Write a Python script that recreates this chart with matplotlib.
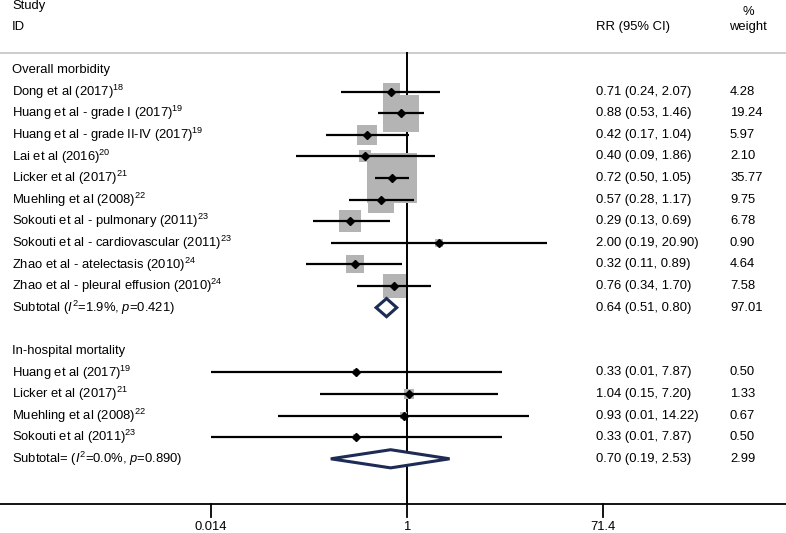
import matplotlib
matplotlib.use("Agg")
import matplotlib.pyplot as plt
import numpy as np

plt.rcParams["font.family"] = ["Liberation Sans", "DejaVu Sans"]
plt.rcParams["mathtext.fontset"] = "custom"
plt.rcParams["mathtext.rm"] = "Liberation Sans"
plt.rcParams["mathtext.it"] = "Liberation Sans:italic"

# ---- data -----------------------------------------------------------------
group_titles = ["Overall morbidity", "In-hospital mortality"]

morb_labels = [
    "Dong et al (2017)$^{18}$",
    "Huang et al - grade I (2017)$^{19}$",
    "Huang et al - grade II-IV (2017)$^{19}$",
    "Lai et al (2016)$^{20}$",
    "Licker et al (2017)$^{21}$",
    "Muehling et al (2008)$^{22}$",
    "Sokouti et al - pulmonary (2011)$^{23}$",
    "Sokouti et al - cardiovascular (2011)$^{23}$",
    "Zhao et al - atelectasis (2010)$^{24}$",
    "Zhao et al - pleural effusion (2010)$^{24}$",
]
morb_rr = [0.71, 0.88, 0.42, 0.40, 0.72, 0.57, 0.29, 2.00, 0.32, 0.76]
morb_lo = [0.24, 0.53, 0.17, 0.09, 0.50, 0.28, 0.13, 0.19, 0.11, 0.34]
morb_hi = [2.07, 1.46, 1.04, 1.86, 1.05, 1.17, 0.69, 20.90, 0.89, 1.70]
morb_wt = [4.28, 19.24, 5.97, 2.10, 35.77, 9.75, 6.78, 0.90, 4.64, 7.58]
morb_sub = (0.64, 0.51, 0.80, 97.01)
morb_sub_label = "Subtotal ($I^2$=1.9%, $p$=0.421)"

mort_labels = [
    "Huang et al (2017)$^{19}$",
    "Licker et al (2017)$^{21}$",
    "Muehling et al (2008)$^{22}$",
    "Sokouti et al (2011)$^{23}$",
]
mort_rr = [0.33, 1.04, 0.93, 0.33]
mort_lo = [0.01, 0.15, 0.01, 0.01]
mort_hi = [7.87, 7.20, 14.22, 7.87]
mort_wt = [0.50, 1.33, 0.67, 0.50]
# lower end of the bars as drawn in the source (Muehling bar starts near 0.06)
mort_lo_drawn = [0.01, 0.15, 0.06, 0.01]
mort_sub = (0.70, 0.19, 2.53, 2.99)
mort_sub_label = "Subtotal= ($I^2$=0.0%, $p$=0.890)"

x_ticks = [0.014, 1, 71.4]
x_ticklabels = ["0.014", "1", "71.4"]

# ---- layout helpers -------------------------------------------------------
W, H = 786, 533
PX_PER_LN = 45.9          # pixels per natural-log unit on the RR scale
X_NULL = 407              # pixel position of RR = 1
ROW0, ROW_H = 70, 21.6    # pixel y of first row and row spacing

fig = plt.figure(figsize=(W / 100, H / 100), dpi=100)
ax = fig.add_axes([0, 0, 1, 1])
ax.set_xlim(-X_NULL / PX_PER_LN, (W - X_NULL) / PX_PER_LN)
ax.set_ylim((H - ROW0) / ROW_H, -ROW0 / ROW_H)
ax.axis("off")

trans_txt = ax.get_yaxis_transform()  # x in axes fraction, y in rows
FS = 9.4
X_LABEL = 12 / W
X_CI = 596 / W
X_WT = 730 / W
X_PCT = 748 / W

lo_clip = np.log(x_ticks[0])
GRAY = "#b4b4b4"
NAVY = "#1d2b55"
BOX_SCALE = 36.2  # marker area (pt^2) per % weight


def draw_study(row, label, rr, lo, hi, wt, lo_drawn=None):
    if lo_drawn is None:
        lo_drawn = lo
    x = np.log(rr)
    ax.scatter([x], [row], s=BOX_SCALE * wt, marker="s", color=GRAY,
               edgecolors="none", zorder=3)
    ax.plot([max(np.log(lo_drawn), lo_clip), np.log(hi)], [row, row],
            color="black", lw=1.6, zorder=4, solid_capstyle="butt")
    ax.plot([x], [row], marker="D", color="black", ms=4.2, zorder=5)
    ax.text(X_LABEL, row, label, transform=trans_txt, fontsize=FS, va="center")
    ax.text(X_CI, row, "{:.2f} ({:.2f}, {:.2f})".format(rr, lo, hi),
            transform=trans_txt, fontsize=FS, va="center")
    ax.text(X_WT, row, "{:.2f}".format(wt), transform=trans_txt,
            fontsize=FS, va="center")


def draw_subtotal(row, label, sub):
    rr, lo, hi, wt = sub
    xs = np.log([lo, rr, hi, rr, lo])
    ys = [row, row - 0.42, row, row + 0.42, row]
    ax.fill(xs, ys, facecolor="white", edgecolor=NAVY, lw=2.2, zorder=5,
            joinstyle="miter")
    ax.text(X_LABEL, row, label, transform=trans_txt, fontsize=FS, va="center")
    ax.text(X_CI, row, "{:.2f} ({:.2f}, {:.2f})".format(rr, lo, hi),
            transform=trans_txt, fontsize=FS, va="center")
    ax.text(X_WT, row, "{:.2f}".format(wt), transform=trans_txt,
            fontsize=FS, va="center")


# headers
ax.text(X_LABEL, -2.95, "Study", transform=trans_txt, fontsize=FS, va="center")
ax.text(X_LABEL, -2.0, "ID", transform=trans_txt, fontsize=FS, va="center")
ax.text(X_CI, -2.0, "RR (95% CI)", transform=trans_txt, fontsize=FS, va="center")
ax.text(X_PCT, -2.7, "%", transform=trans_txt, fontsize=FS, va="center", ha="center")
ax.text(X_PCT, -2.0, "weight", transform=trans_txt, fontsize=FS, va="center", ha="center")
ax.axhline(-0.8, color="#c4c4c4", lw=1.2)

# group 1
row = 0
ax.text(X_LABEL, row, group_titles[0], transform=trans_txt, fontsize=FS, va="center")
for i in range(len(morb_labels)):
    row += 1
    draw_study(row, morb_labels[i], morb_rr[i], morb_lo[i], morb_hi[i], morb_wt[i])
row += 1
draw_subtotal(row, morb_sub_label, morb_sub)

# group 2
row += 2
ax.text(X_LABEL, row, group_titles[1], transform=trans_txt, fontsize=FS, va="center")
for i in range(len(mort_labels)):
    row += 1
    draw_study(row, mort_labels[i], mort_rr[i], mort_lo[i], mort_hi[i],
               mort_wt[i], mort_lo_drawn[i])
row += 1
draw_subtotal(row, mort_sub_label, mort_sub)

# axis line, null line and ticks
axis_row = (503.5 - ROW0) / ROW_H
tick_len = 13 / ROW_H
ax.axhline(axis_row, color="black", lw=1.3, zorder=2)
ax.plot([0, 0], [-0.8, axis_row], color="black", lw=1.4, zorder=2)
for t, lab in zip(x_ticks, x_ticklabels):
    ax.plot([np.log(t)] * 2, [axis_row, axis_row + tick_len], color="black", lw=1.3)
    ax.text(np.log(t), (526.5 - ROW0) / ROW_H, lab, fontsize=FS,
            ha="center", va="center")

fig.savefig("out.png", dpi=100)
